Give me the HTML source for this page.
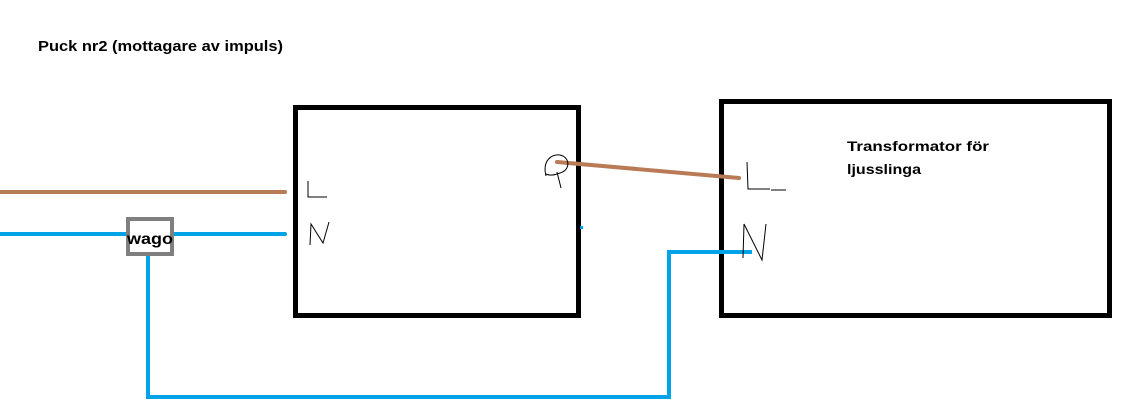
<!DOCTYPE html>
<html><head><meta charset="utf-8"><style>html,body{margin:0;padding:0;background:#fff;}svg{display:block}</style></head>
<body>
<svg width="1147" height="418" viewBox="0 0 1147 418" xmlns="http://www.w3.org/2000/svg">
<rect width="1147" height="418" fill="#fff"/>
<text x="38" y="51" font-family="Liberation Sans, sans-serif" font-weight="bold" font-size="15" textLength="245" lengthAdjust="spacingAndGlyphs">Puck nr2 (mottagare av impuls)</text>
<rect x="295.5" y="107.5" width="283" height="208" fill="none" stroke="#000" stroke-width="5"/>
<rect x="721.5" y="101.5" width="388" height="214" fill="none" stroke="#000" stroke-width="5"/>
<text x="847" y="151" font-family="Liberation Sans, sans-serif" font-weight="bold" font-size="14" textLength="142" lengthAdjust="spacingAndGlyphs">Transformator för</text>
<text x="847" y="174" font-family="Liberation Sans, sans-serif" font-weight="bold" font-size="14" textLength="74" lengthAdjust="spacingAndGlyphs">ljusslinga</text>
<line x1="0" y1="192" x2="285" y2="192" stroke="#b97a56" stroke-width="4" stroke-linecap="round"/>
<line x1="0" y1="234" x2="285" y2="234" stroke="#00a2e8" stroke-width="4" stroke-linecap="round"/>
<polyline points="148,256 148,397 669,397 669,252 752,252" fill="none" stroke="#00a2e8" stroke-width="4"/>
<rect x="128" y="219" width="44" height="35" fill="#fff" stroke="#7f7f7f" stroke-width="4"/>
<text x="150" y="244" text-anchor="middle" font-family="Liberation Sans, sans-serif" font-weight="bold" font-size="16" textLength="46" lengthAdjust="spacingAndGlyphs">wago</text>
<line x1="557" y1="162" x2="739" y2="178" stroke="#b97a56" stroke-width="4" stroke-linecap="round"/>
<path d="M546,176 C542,160 552,154 560,155 C570,157 571,170 560,173 C555,175 550,176 546,174 M557,172 L561,188" fill="none" stroke="#000" stroke-width="1"/>
<rect x="580" y="226" width="3" height="3" fill="#00a2e8"/>
<path d="M308,181 L308,197 L327,197" fill="none" stroke="#000" stroke-width="1"/>
<path d="M310,245 L311,224 L323,243 L329,222" fill="none" stroke="#000" stroke-width="1"/>
<path d="M747,162 L748,189 L770,189 M771,190 L786,190" fill="none" stroke="#000" stroke-width="1"/>
<path d="M743,258 L744,224 L762,260 L766,224" fill="none" stroke="#000" stroke-width="1"/>
</svg>
</body></html>
